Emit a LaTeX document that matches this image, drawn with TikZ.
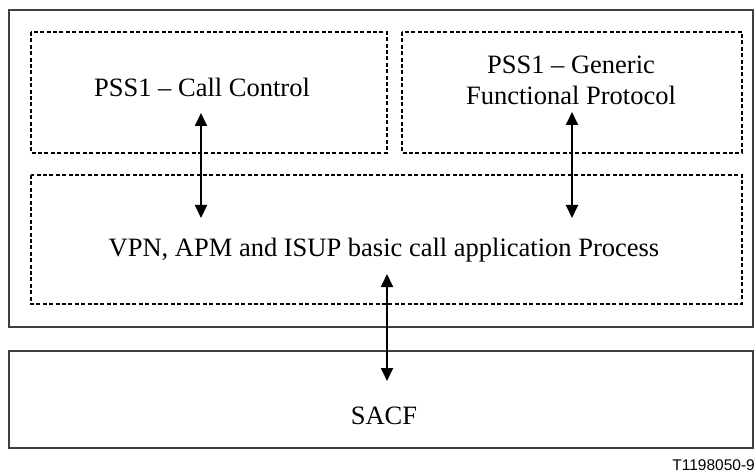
\documentclass[tikz,border=0pt]{standalone}
\usepackage{fontspec}
\setmainfont{Liberation Serif}
\newfontfamily\labelsans{Liberation Sans}
\usetikzlibrary{arrows.meta}
\begin{document}
\begin{tikzpicture}[x=1pt,y=-1pt,
  solidbox/.style={draw=black!75,line width=1.1pt},
  dashbox/.style={draw=black,line width=1.5pt,dash pattern=on 4pt off 2.4pt},
  txt/.style={font=\fontsize{26.5}{31}\selectfont,align=center,inner sep=0pt,anchor=base},
  biarrow/.style={line width=1.8pt,{Triangle[length=13pt,width=12pt]}-{Triangle[length=13pt,width=12pt]}}]
\useasboundingbox (0,0) rectangle (755,473);
\draw[solidbox] (9,10) rectangle (753,327);
\draw[dashbox] (31,32) rectangle (387,153);
\draw[dashbox] (402,32) rectangle (742,153);
\draw[dashbox] (31,175) rectangle (742,304);
\draw[solidbox] (9,351) rectangle (753,448);
\node[txt] (cc) at (202,97) {PSS1 – Call Control};
\node[txt] (gfp) at (571,105) {PSS1 – Generic\\Functional Protocol};
\node[txt] (vpn) at (384,256) {VPN, APM and ISUP basic call application Process};
\node[txt] (sacf) at (384,424) {SACF};
\node[font=\labelsans\fontsize{15.5}{17}\selectfont,anchor=base east,inner sep=0pt] (tag) at (755,470) {T1198050-9};
\coordinate (a1t) at (201,113);
\coordinate (a1b) at (201,218);
\coordinate (a2t) at (572,112);
\coordinate (a2b) at (572,218);
\coordinate (a3t) at (387,274);
\coordinate (a3b) at (387,381);
\draw[biarrow] (a1t) -- (a1b);
\draw[biarrow] (a2t) -- (a2b);
\draw[biarrow] (a3t) -- (a3b);
\end{tikzpicture}
\end{document}
